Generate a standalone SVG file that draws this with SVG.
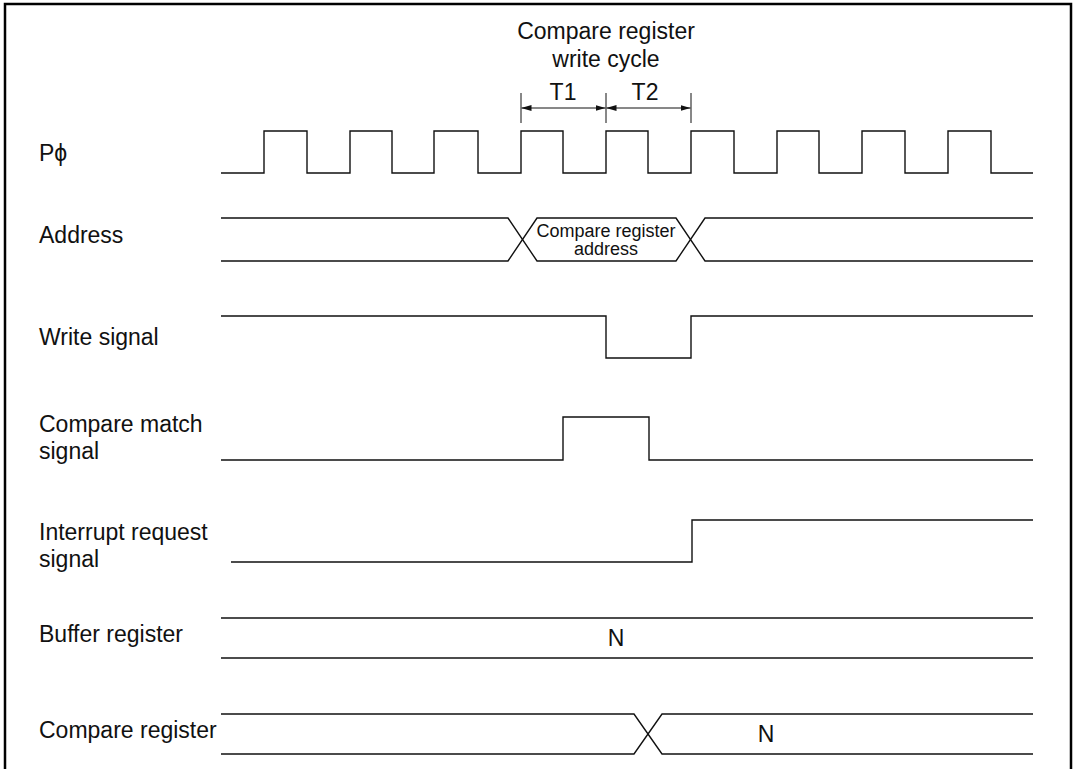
<svg xmlns="http://www.w3.org/2000/svg" width="1075" height="769" viewBox="0 0 1075 769">
<style>
.sig{fill:none;stroke:#111;stroke-width:1.4;stroke-linejoin:miter}
.dim{fill:none;stroke:#111;stroke-width:1}
.lbl{font-family:"Liberation Sans",Arial,sans-serif;font-size:23px;fill:#111}
.sm{font-family:"Liberation Sans",Arial,sans-serif;font-size:18px;fill:#111}
</style>
<defs>
<marker id="ah" viewBox="0 0 10 6" refX="10" refY="3" markerWidth="10" markerHeight="6" markerUnits="userSpaceOnUse" orient="auto-start-reverse">
<path d="M0,0 L10,3 L0,6 z" fill="#111"/>
</marker>
</defs>
<rect x="5" y="4" width="1066" height="780" fill="#fff" stroke="#000" stroke-width="2.5"/>
<g id="title">
<text class="lbl" x="606" y="39" text-anchor="middle">Compare register</text>
<text class="lbl" x="606" y="67" text-anchor="middle">write cycle</text>
</g>
<g id="labels">
<text class="lbl" x="39" y="161">Pϕ</text>
<text class="lbl" x="39" y="243">Address</text>
<text class="lbl" x="39" y="345">Write signal</text>
<text class="lbl" x="39" y="432">Compare match</text>
<text class="lbl" x="39" y="459">signal</text>
<text class="lbl" x="39" y="540">Interrupt request</text>
<text class="lbl" x="39" y="567">signal</text>
<text class="lbl" x="39" y="642">Buffer register</text>
<text class="lbl" x="39" y="738">Compare register</text>
</g>
<g id="timing-dims">
<line class="dim" x1="521" y1="93" x2="521" y2="123"/>
<line class="dim" x1="606" y1="93" x2="606" y2="123"/>
<line class="dim" x1="691" y1="93" x2="691" y2="123"/>
<line class="dim" x1="521.5" y1="108" x2="605.5" y2="108" marker-start="url(#ah)" marker-end="url(#ah)"/>
<line class="dim" x1="606.5" y1="108" x2="690.5" y2="108" marker-start="url(#ah)" marker-end="url(#ah)"/>
<text class="lbl" x="563" y="100" text-anchor="middle">T1</text>
<text class="lbl" x="645" y="100" text-anchor="middle">T2</text>
</g>
<g id="clock">
<path class="sig" d="M221,173 H264 V131 H307 V173 H350 V131 H392 V173 H434 V131 H478 V173 H521 V131 H563 V173 H606 V131 H648 V173 H691 V131 H734 V173 H777 V131 H819 V173 H862 V131 H905 V173 H948 V131 H991 V173 H1033"/>
</g>
<g id="address">
<path class="sig" d="M221,218 H508 L537,261 H676 L705,218 H1033"/>
<path class="sig" d="M221,261 H508 L537,218 H676 L705,261 H1033"/>
<text class="sm" x="606" y="237" text-anchor="middle">Compare register</text>
<text class="sm" x="606" y="255" text-anchor="middle">address</text>
</g>
<g id="write-signal">
<path class="sig" d="M221,316 H606 V358 H691 V316 H1033"/>
</g>
<g id="compare-match">
<path class="sig" d="M221,460 H563 V417 H649 V460 H1033"/>
</g>
<g id="interrupt-request">
<path class="sig" d="M231,562 H692 V520 H1033"/>
</g>
<g id="buffer-register">
<line class="sig" x1="221" y1="618" x2="1033" y2="618"/>
<line class="sig" x1="221" y1="658" x2="1033" y2="658"/>
<text class="lbl" x="616" y="646" text-anchor="middle">N</text>
</g>
<g id="compare-register">
<path class="sig" d="M221,714 H634 L662,754 H1033"/>
<path class="sig" d="M221,754 H634 L662,714 H1033"/>
<text class="lbl" x="766" y="742" text-anchor="middle">N</text>
</g>
</svg>
